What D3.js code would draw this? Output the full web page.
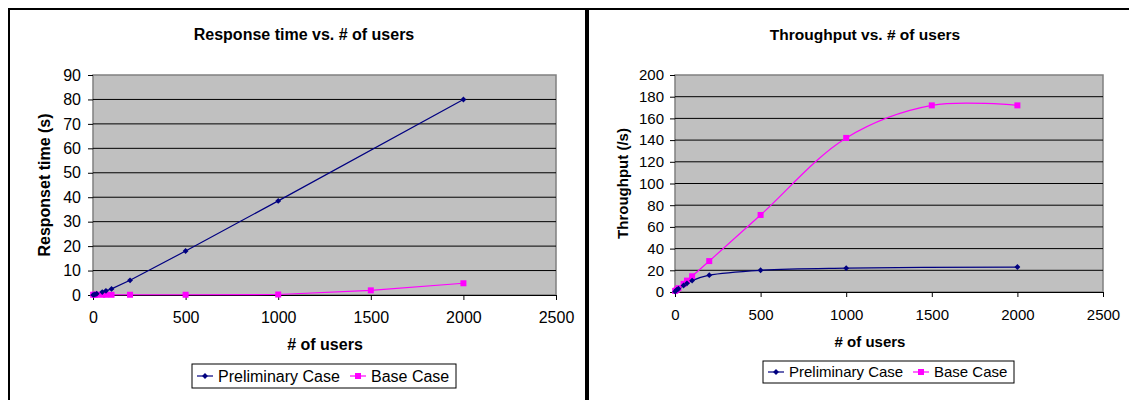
<!DOCTYPE html>
<html>
<head>
<meta charset="utf-8">
<script src="https://cdn.jsdelivr.net/npm/d3@7"></script>
<style>
  body { margin: 0; background: #fff; }
  svg { display: block; font-family: Arial, "Liberation Sans", sans-serif; }
</style>
</head>
<body>
<svg id="chart" width="1129" height="400"></svg>
<script>
// --- data ---
const xTicks = [0, 500, 1000, 1500, 2000, 2500];
const respTicks = [0, 10, 20, 30, 40, 50, 60, 70, 80, 90];
const thrTicks = [0, 20, 40, 60, 80, 100, 120, 140, 160, 180, 200];

const seriesNames = ['Preliminary Case', 'Base Case'];

const respPrelimUsers = [1, 10, 20, 50, 70, 100, 200, 500, 1000, 2000];
const respPrelim = [0.05, 0.2, 0.5, 1.2, 1.7, 2.5, 6, 18, 38.5, 80];
const respBaseUsers = [1, 10, 20, 50, 70, 100, 200, 500, 1000, 1500, 2000];
const respBase = [0.1, 0.1, 0.1, 0.1, 0.1, 0.1, 0.1, 0.1, 0.2, 1.9, 4.8];

const thrPrelimUsers = [1, 10, 20, 50, 70, 100, 200, 500, 1000, 2000];
const thrPrelim = [0.5, 2, 3, 6, 8, 10.5, 15.5, 20, 22, 23];
const thrBaseUsers = [1, 10, 20, 50, 70, 100, 200, 500, 1000, 1500, 2000];
const thrBase = [1, 2, 3.5, 7.5, 10.5, 14.5, 28.5, 71, 142, 172, 172];

const svg = d3.select('#chart');
const NAVY = '#000080', PINK = '#FF00FF';

// panel borders
svg.append('rect').attr('x', 9).attr('y', 9).attr('width', 577).attr('height', 420)
  .attr('fill', 'none').attr('stroke', '#000').attr('stroke-width', 2);
svg.append('rect').attr('x', 588).attr('y', 9).attr('width', 560).attr('height', 420)
  .attr('fill', 'none').attr('stroke', '#000').attr('stroke-width', 2);

function zip(xs, ys) { return xs.map((x, i) => ({ x: x, y: ys[i] })); }

function drawChart(cfg) {
  const g = svg.append('g');
  const fs = cfg.fontSize;
  const x = d3.scaleLinear().domain([0, 2500]).range([cfg.left, cfg.right]);
  const y = d3.scaleLinear().domain([0, cfg.yMax]).range([cfg.bottom, cfg.top]);

  // plot area
  g.append('rect')
    .attr('x', cfg.left).attr('y', cfg.top)
    .attr('width', cfg.right - cfg.left).attr('height', cfg.bottom - cfg.top)
    .attr('fill', '#C0C0C0').attr('stroke', '#808080').attr('stroke-width', 1.5);

  // grid
  g.append('g').selectAll('line')
    .data(cfg.yTicks.filter(d => d > 0 && d < cfg.yMax))
    .enter().append('line')
    .attr('x1', cfg.left).attr('x2', cfg.right)
    .attr('y1', d => y(d)).attr('y2', d => y(d))
    .attr('stroke', '#000').attr('stroke-width', 1);

  // axes
  const yAxis = g.append('g')
    .attr('transform', 'translate(' + cfg.left + ',0)')
    .call(d3.axisLeft(y).tickValues(cfg.yTicks).tickSizeInner(5).tickSizeOuter(0).tickPadding(cfg.yPad));
  const xAxis = g.append('g')
    .attr('transform', 'translate(0,' + cfg.bottom + ')')
    .call(d3.axisBottom(x).tickValues(xTicks).tickSizeInner(5).tickSizeOuter(0).tickPadding(12).tickFormat(d3.format('d')));
  [xAxis, yAxis].forEach(a => {
    a.selectAll('path').attr('stroke', '#000');
    a.selectAll('.tick line').attr('stroke', '#000');
    a.selectAll('.tick text').attr('font-size', fs).attr('fill', '#000')
      .attr('font-family', 'Arial, "Liberation Sans", sans-serif');
  });
  yAxis.select('path').remove();

  // titles
  g.append('text').text(cfg.title)
    .attr('x', cfg.titleX).attr('y', 40)
    .attr('text-anchor', 'middle').attr('font-size', cfg.titleSize).attr('font-weight', 'bold');
  g.append('text').text('# of users')
    .attr('x', cfg.xTitleX).attr('y', cfg.bottom + 55)
    .attr('text-anchor', 'middle').attr('font-size', fs).attr('font-weight', 'bold');
  g.append('text').text(cfg.yTitle)
    .attr('transform', 'translate(' + cfg.yTitleX + ' ' + ((cfg.top + cfg.bottom) / 2) + '),rotate(-90)')
    .attr('text-anchor', 'middle').attr('font-size', fs).attr('font-weight', 'bold');

  // lines
  const line = d3.line().x(d => x(d.x)).y(d => y(d.y)).curve(cfg.curve);
  const series = [
    { data: zip(cfg.prelimX, cfg.prelimY), color: NAVY, marker: 'diamond' },
    { data: zip(cfg.baseX, cfg.baseY), color: PINK, marker: 'square' }
  ];
  series.forEach(s => {
    g.append('path').datum(s.data)
      .attr('d', line).attr('fill', 'none')
      .attr('stroke', s.color).attr('stroke-width', 1.2);
  });
  series.slice().reverse().forEach(s => drawMarkers(g, s.data.map(d => [x(d.x), y(d.y)]), s.marker, s.color));

  // legend
  const lg = g.append('g').attr('transform', 'translate(' + cfg.legendX + ',' + cfg.legendY + ')');
  lg.append('rect').attr('width', cfg.legendW).attr('height', cfg.legendH)
    .attr('fill', '#fff').attr('stroke', '#000').attr('stroke-width', 1);
  const items = [
    { name: seriesNames[0], color: NAVY, marker: 'diamond', off: 5 },
    { name: seriesNames[1], color: PINK, marker: 'square', off: cfg.legendSecond }
  ];
  const mid = cfg.legendH / 2;
  items.forEach(it => {
    lg.append('line').attr('x1', it.off).attr('x2', it.off + 16)
      .attr('y1', mid).attr('y2', mid).attr('stroke', it.color).attr('stroke-width', 1.2);
    drawMarkers(lg, [[it.off + 8, mid]], it.marker, it.color);
    lg.append('text').text(it.name)
      .attr('x', it.off + 21).attr('y', mid + fs * 0.36).attr('font-size', fs);
  });
}

function drawMarkers(g, pts, type, color) {
  if (type === 'square') {
    g.append('g').selectAll('rect').data(pts).enter().append('rect')
      .attr('x', d => d[0] - 3).attr('y', d => d[1] - 3)
      .attr('width', 6).attr('height', 6).attr('fill', color);
  } else {
    const sym = d3.symbol().type(d3.symbolDiamond2).size(22);
    g.append('g').selectAll('path').data(pts).enter().append('path')
      .attr('transform', d => 'translate(' + d[0] + ',' + d[1] + ')')
      .attr('d', sym).attr('fill', color);
  }
}

drawChart({
  left: 93, right: 556, top: 75, bottom: 295, yMax: 90, yTicks: respTicks,
  fontSize: 16, titleSize: 16, yPad: 7,
  title: 'Response time vs. # of users', titleX: 304, xTitleX: 325,
  yTitle: 'Responset time (s)', yTitleX: 50,
  prelimX: respPrelimUsers, prelimY: respPrelim, baseX: respBaseUsers, baseY: respBase,
  curve: d3.curveLinear,
  legendX: 192, legendY: 364, legendW: 264, legendH: 24, legendSecond: 158
});

drawChart({
  left: 675, right: 1103, top: 75, bottom: 292, yMax: 200, yTicks: thrTicks,
  fontSize: 15, titleSize: 15.5, yPad: 6,
  title: 'Throughput vs. # of users', titleX: 865, xTitleX: 870,
  yTitle: 'Throughput (/s)', yTitleX: 628,
  prelimX: thrPrelimUsers, prelimY: thrPrelim, baseX: thrBaseUsers, baseY: thrBase,
  curve: d3.curveCatmullRom.alpha(0.5),
  legendX: 763, legendY: 361, legendW: 251, legendH: 22, legendSecond: 150
});
</script>
</body>
</html>
